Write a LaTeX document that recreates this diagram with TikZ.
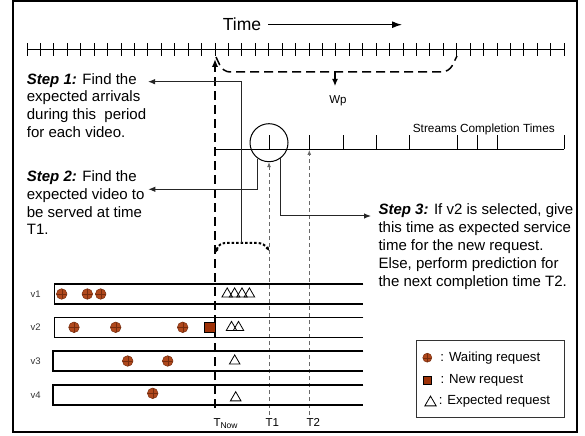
\documentclass[tikz,border=0pt]{standalone}
\usepackage{fontspec}
\setmainfont{Liberation Sans}
\usetikzlibrary{calc,positioning,arrows.meta,shapes.geometric}

\definecolor{waitbrown}{RGB}{176,72,28}
\definecolor{waitedge}{RGB}{118,44,14}
\definecolor{newbrown}{RGB}{158,50,8}
\definecolor{guidegray}{RGB}{105,105,105}

\newcommand{\stepfont}{\fontsize{15bp}{17.8bp}\selectfont}
\newcommand{\stepname}[1]{{\bfseries\itshape #1}}
\newcommand{\lowtxt}[1]{\raisebox{-2.2bp}{\fontsize{8.5bp}{9bp}\selectfont #1}}

\tikzset{
  steptext/.style={anchor=north west, align=left, inner sep=0pt, font=\stepfont},
  rowlabel/.style={inner sep=0pt, font=\fontsize{9.5bp}{11bp}\selectfont, text=black!80},
  timelabel/.style={anchor=base west, inner sep=0pt, font=\fontsize{11.5bp}{13bp}\selectfont},
  legendtext/.style={anchor=west, inner sep=0pt, font=\fontsize{13.2bp}{15bp}\selectfont},
  waiting/.style={circle, draw=waitedge, fill=waitbrown, line width=0.5bp, minimum size=10.6bp, inner sep=0pt,
    path picture={\draw[waitedge, line width=0.35bp]
      (path picture bounding box.north) -- (path picture bounding box.south)
      (path picture bounding box.west) -- (path picture bounding box.east);}},
  newreq/.style={rectangle, draw=black, fill=newbrown, line width=0.8bp, minimum size=10.5bp, inner sep=0pt},
  expected/.style={regular polygon, regular polygon sides=3, draw=black, line width=0.8bp, minimum size=12.2bp, inner sep=0pt},
  guide/.style={draw=guidegray, line width=0.8bp, dash pattern=on 4bp off 3bp},
  pointer/.style={draw=black!85, line width=1bp, -{Latex[length=7bp,width=5.5bp]}},
}

\begin{document}
\begin{tikzpicture}[x=1bp, y=-1bp]
	\useasboundingbox (0,0) rectangle (585,436);
	\draw[line width=2bp] (13,1) rectangle (577,432);
	
	%------------------------------------------------
	% Time axis
	%------------------------------------------------
	\node[inner sep=0pt, font=\fontsize{17.5bp}{20bp}\selectfont] (timelbl) at (242,24.7) {Time};
	\coordinate (timetip) at (402,24.7);
	\draw[line width=1.2bp, -{Latex[length=10bp,width=7bp]}] ([xshift=7bp]timelbl.east) -- (timetip);
	
	\draw[line width=1.2bp] (27,49.3) -- (564,49.3);
	\foreach \k in {-14,...,26}
		\draw[line width=0.9bp] ({215+13.43*\k},43.3) -- ++(0,12.7);
	
	% prediction window
	\draw[line width=1.5bp, dash pattern=on 9bp off 5bp, rounded corners=7bp]
		(216,57) -- (223,72) -- (449,72) -- (457,56);
	\coordinate (wptop) at (335,72);
	\coordinate (wptip) at (335,86);
	\draw[line width=1.2bp, -{Latex[length=7bp,width=6bp]}] (wptop) -- (wptip);
	\node[inner sep=0pt, font=\fontsize{11.5bp}{13bp}\selectfont] (wp) at (338,100.5) {Wp};
	
	%------------------------------------------------
	% Streams completion times
	%------------------------------------------------
	\draw[line width=1.5bp] (215,149.3) -- (564,149.3);
	\foreach \x in {269,309.3,343.3,376.3,409.3,457.3,477.3,497.3,564}
		\draw[line width=0.9bp] (\x,149.3) -- ++(0,-14);
	\node[inner sep=0pt, font=\fontsize{11.8bp}{13bp}\selectfont] (sctlbl) at (483.8,129) {Streams Completion Times};
	\node[circle, draw, line width=1bp, minimum size=38bp, inner sep=0pt] (pick) at (269,142.7) {};
	
	%------------------------------------------------
	% Now, T1 and T2
	%------------------------------------------------
	\coordinate (nowtop) at (215,59);
	\coordinate (nowbot) at (215,408);
	\draw[line width=1.6bp, dash pattern=on 9bp off 5bp, -{Latex[length=8bp,width=6.5bp]}] (nowbot) -- (nowtop);
	
	\coordinate (t1bot) at (269,415);
	\coordinate (t2bot) at (309.3,415);
	\coordinate (t2top) at (309.3,150);
	\draw[guide, -{Latex[length=5bp,width=4bp]}] (t1bot) -- (pick.south);
	\draw[guide, -{Latex[length=5bp,width=4bp]}] (t2bot) -- (t2top);
	
	\node[timelabel] (nowlbl) at (213.3,426.5) {T\lowtxt{Now}};
	\node[timelabel] (t1lbl) at (265.5,426.5) {T1};
	\node[timelabel] (t2lbl) at (306.3,426.5) {T2};
	
	% arrivals between now and T1
	\draw[line width=2bp, dash pattern=on 2.5bp off 2bp, rounded corners=6bp,
		{Latex[length=4bp,width=4bp]}-{Latex[length=4bp,width=4bp]}]
		(215.5,253) -- (219,243) -- (264,243) -- (269.3,251);
	
	%------------------------------------------------
	% Steps
	%------------------------------------------------
	\coordinate (bracetop) at (241.7,243);
	\coordinate (s1tip) at (148,81.7);
	\coordinate (s2tip) at (148.3,189.3);
	\coordinate (s3tip) at (371,216);
	\draw[pointer] (bracetop) |- (s1tip);
	\draw[pointer] (pick.-125) |- (s2tip);
	\draw[pointer] (pick.-53) |- (s3tip);
	
	\node[steptext] (step1) at (26.7,73) {\stepname{Step 1:} Find the\\expected arrivals\\during this~ period\\for each video.};
	\node[steptext] (step2) at (26.7,170.5) {\stepname{Step 2:} Find the\\expected video to\\be served at time\\T1.};
	\node[steptext] (step3) at (378.3,203.8) {\stepname{Step 3:} If v2 is selected, give\\this time as expected service\\time for the new request.\\Else, perform prediction for\\the next completion time T2.};
	
	%------------------------------------------------
	% Video queues
	%------------------------------------------------
	\foreach \vid/\xl/\yt in {1/54.3/284, 2/54.3/317.3, 3/53/351, 4/53/385} {
		\draw[line width=1.5bp] (363.3,\yt) -- (\xl,\yt) -- (\xl,\yt+20) -- (363.3,\yt+20);
		\node[rowlabel] (v\vid) at (35.7,\yt+10) {v\vid};
	}
	
	\foreach \nm/\x/\y in {w1a/61.7/294, w1b/87.3/294, w1c/100.7/294,
		w2a/74/327.3, w2b/115.7/327.3, w2c/182.7/327.3,
		w3a/127.7/361, w3b/167.7/361, w4a/152.7/393.3}
		\node[waiting] (\nm) at (\x,\y) {};
	\node[newreq] (newv2) at (209.7,327.3) {};
	
	\foreach \nm/\x/\y in {e1a/227.2/292.5, e1b/234.6/292.5, e1c/242/292.5, e1d/249.4/292.5,
		e2a/231.5/326, e2b/238.5/326, e3a/234.7/359.5, e4a/235.7/396.3}
		\node[expected] (\nm) at (\x,\y+1.5) {};
	
	%------------------------------------------------
	% Legend
	%------------------------------------------------
	\node[draw=black!80, line width=0.8bp, minimum width=147.6bp, minimum height=77bp, inner sep=0pt] (legend) at (490.5,379.2) {};
	\node[waiting, minimum size=9bp] (lgwait) at (427.3,357.7) {};
	\node[newreq, minimum size=8bp] (lgnew) at (427.5,380) {};
	\node[expected, minimum size=13bp] (lgexp) at (430.5,402.6) {};
	\node[legendtext, right=8.2bp of lgwait] (lgwaittxt) {: Waiting request};
	\node[legendtext, right=8.5bp of lgnew] (lgnewtxt) {: New request};
	\node[legendtext, right=3.9bp of lgexp.east |- lgnew.center, yshift=-21bp] (lgexptxt) {: Expected request};
\end{tikzpicture}
\end{document}
